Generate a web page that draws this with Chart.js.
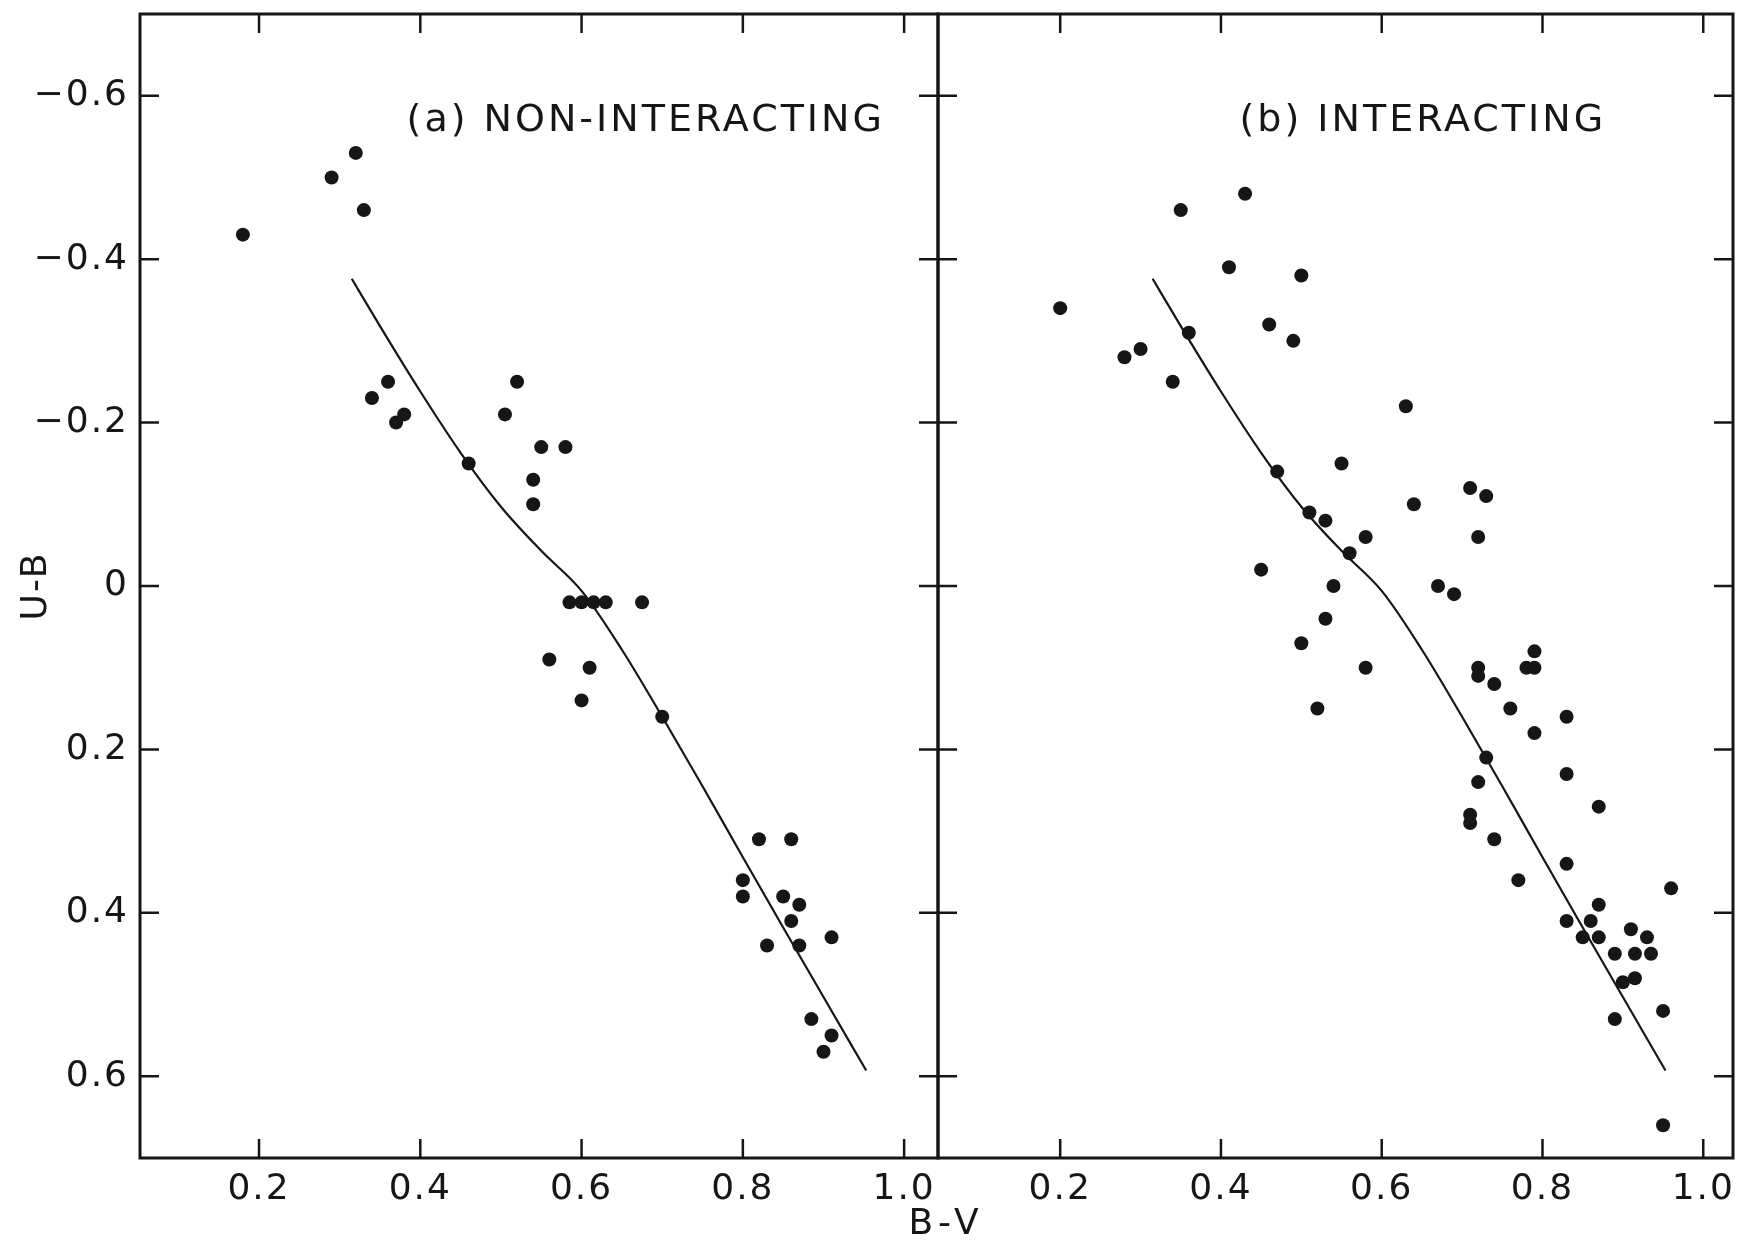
<!DOCTYPE html>
<html>
<head>
<meta charset="utf-8">
<title>U-B vs B-V: non-interacting and interacting galaxies</title>
<script src="https://cdn.jsdelivr.net/npm/chart.js@4.4.1/dist/chart.umd.min.js"></script>
<style>
  html, body { margin: 0; padding: 0; background: #fff; }
  #wrap { position: relative; width: 1741px; height: 1244px; }
  #wrap canvas { position: absolute; left: 0; top: 0; }
</style>
</head>
<body>
<div id="wrap">
  <canvas id="panel-a" width="1741" height="1244"></canvas>
  <canvas id="panel-b" width="1741" height="1244"></canvas>
</div>
<script>
/*
 * Data
**/
const bvTicks = [0.2, 0.4, 0.6, 0.8, 1.0]
const bvTickLabels = ['0.2', '0.4', '0.6', '0.8', '1.0']
const ubTicks = [-0.6, -0.4, -0.2, 0, 0.2, 0.4, 0.6]
const ubTickLabels = ['−0.6', '−0.4', '−0.2', '0', '0.2', '0.4', '0.6']

// (a) non-interacting
const nonInteractingBV = [0.18, 0.29, 0.32, 0.33, 0.34, 0.36, 0.37, 0.38, 0.46, 0.505,
  0.52, 0.54, 0.54, 0.55, 0.58, 0.585, 0.60, 0.615, 0.63, 0.675,
  0.56, 0.61, 0.60, 0.70, 0.82, 0.86, 0.80, 0.80, 0.85, 0.87,
  0.86, 0.83, 0.87, 0.91, 0.885, 0.91, 0.90]
const nonInteractingUB = [-0.43, -0.50, -0.53, -0.46, -0.23, -0.25, -0.20, -0.21, -0.15, -0.21,
  -0.25, -0.13, -0.10, -0.17, -0.17, 0.02, 0.02, 0.02, 0.02, 0.02,
  0.09, 0.10, 0.14, 0.16, 0.31, 0.31, 0.36, 0.38, 0.38, 0.39,
  0.41, 0.44, 0.44, 0.43, 0.53, 0.55, 0.57]

// (b) interacting
const interactingBV = [0.20, 0.28, 0.30, 0.34, 0.35, 0.36, 0.41, 0.43, 0.46, 0.47,
  0.45, 0.49, 0.50, 0.51, 0.53, 0.55, 0.54, 0.56, 0.58, 0.53,
  0.50, 0.52, 0.58, 0.63, 0.64, 0.67, 0.69, 0.71, 0.73, 0.72,
  0.72, 0.72, 0.74, 0.76, 0.79, 0.78, 0.79, 0.83, 0.79, 0.73,
  0.72, 0.71, 0.71, 0.74, 0.83, 0.87, 0.83, 0.77, 0.87, 0.86,
  0.83, 0.85, 0.87, 0.89, 0.91, 0.93, 0.915, 0.935, 0.90, 0.915,
  0.89, 0.95, 0.96, 0.95]
const interactingUB = [-0.34, -0.28, -0.29, -0.25, -0.46, -0.31, -0.39, -0.48, -0.32, -0.14,
  -0.02, -0.30, -0.38, -0.09, -0.08, -0.15, 0.00, -0.04, -0.06, 0.04,
  0.07, 0.15, 0.10, -0.22, -0.10, 0.00, 0.01, -0.12, -0.11, -0.06,
  0.10, 0.11, 0.12, 0.15, 0.08, 0.10, 0.10, 0.16, 0.18, 0.21,
  0.24, 0.28, 0.29, 0.31, 0.23, 0.27, 0.34, 0.36, 0.39, 0.41,
  0.41, 0.43, 0.43, 0.45, 0.42, 0.43, 0.45, 0.45, 0.485, 0.48,
  0.53, 0.52, 0.37, 0.66]

// reference curve, same in both panels
const curveBV = [0.315, 0.35, 0.40, 0.45, 0.50, 0.55, 0.60, 0.65, 0.70, 0.75, 0.80, 0.85, 0.90, 0.953]
const curveUB = [-0.376, -0.318, -0.238, -0.163, -0.097, -0.043, 0.006, 0.078, 0.160, 0.245, 0.332, 0.418, 0.503, 0.593]

/*
 * Style
**/
const INK = '#161616'
const FONT = 'DejaVu Sans'
const TICK_LEN = 19

const toPoints = (xs, ys) => xs.map((x, i) => ({ x: x, y: ys[i] }))

// Lettering in the original is widely spaced
const spacingPlugin = {
  id: 'spacing',
  beforeDraw(chart) {
    chart.ctx.letterSpacing = '2px'
  }
}

// Inward ticks on all four sides plus the box round the plot
const frameTicksPlugin = {
  id: 'frameTicks',
  afterDraw(chart) {
    const { ctx, chartArea: { left, right, top, bottom }, scales: { x, y } } = chart
    ctx.save()
    ctx.strokeStyle = INK
    ctx.lineWidth = 2.5
    ctx.beginPath()
    bvTicks.forEach(v => {
      const px = x.getPixelForValue(v)
      ctx.moveTo(px, top)
      ctx.lineTo(px, top + TICK_LEN)
      ctx.moveTo(px, bottom)
      ctx.lineTo(px, bottom - TICK_LEN)
    })
    ubTicks.forEach(v => {
      const py = y.getPixelForValue(v)
      ctx.moveTo(left, py)
      ctx.lineTo(left + TICK_LEN, py)
      ctx.moveTo(right, py)
      ctx.lineTo(right - TICK_LEN, py)
    })
    ctx.stroke()
    ctx.lineWidth = 3
    ctx.strokeRect(left, top, right - left, bottom - top)
    ctx.restore()
  }
}

// Panel caption and the shared B-V axis label
const captionPlugin = {
  id: 'caption',
  afterDraw(chart, args, opts) {
    const { ctx, scales: { x, y }, chartArea } = chart
    ctx.save()
    ctx.fillStyle = INK
    ctx.letterSpacing = '3px'
    ctx.font = `38px "${FONT}"`
    ctx.textBaseline = 'middle'
    ctx.textAlign = 'left'
    ctx.fillText(opts.text, x.getPixelForValue(opts.bv), y.getPixelForValue(opts.ub))
    if (opts.axisText) {
      ctx.letterSpacing = '5px'
      ctx.font = `36px "${FONT}"`
      ctx.textAlign = 'center'
      ctx.fillText(opts.axisText, chartArea.left + 8, chartArea.bottom + 67)
    }
    ctx.restore()
  }
}

class ColorPanel {
  constructor(canvasId, spec) {
    this.canvasId = canvasId
    this.spec = spec
  }

  get config() {
    return {
      type: 'scatter',
      data: { datasets: this.datasets },
      options: this.options,
      plugins: [spacingPlugin, frameTicksPlugin, captionPlugin]
    }
  }

  get datasets() {
    return [
      {
        label: 'galaxies',
        data: toPoints(this.spec.bv, this.spec.ub),
        pointRadius: 7,
        pointBackgroundColor: INK,
        pointBorderWidth: 0
      },
      {
        label: 'curve',
        data: toPoints(curveBV, curveUB),
        showLine: true,
        cubicInterpolationMode: 'monotone',
        borderColor: INK,
        borderWidth: 2.2,
        pointRadius: 0
      }
    ]
  }

  get options() {
    const spec = this.spec
    const tickFont = { family: FONT, size: 36 }
    return {
      responsive: false,
      animation: false,
      events: [],
      layout: { padding: spec.padding },
      scales: {
        x: {
          type: 'linear',
          min: spec.xMin,
          max: spec.xMax,
          // fixed band under the plot, no edge padding for labels
          afterFit: s => {
            s.height = 86
            s.paddingLeft = 0
            s.paddingRight = 0
          },
          afterBuildTicks: s => { s.ticks = bvTicks.map(v => ({ value: v })) },
          grid: { display: false, drawTicks: false },
          border: { display: false },
          ticks: {
            autoSkip: false,
            maxRotation: 0,
            padding: 10,
            color: INK,
            font: tickFont,
            callback: (v, i) => bvTickLabels[i]
          }
        },
        y: {
          type: 'linear',
          min: -0.7,
          max: 0.7,
          reverse: true,
          afterFit: s => {
            s.width = spec.yWidth
            s.paddingTop = 0
            s.paddingBottom = 0
          },
          afterBuildTicks: s => { s.ticks = ubTicks.map(v => ({ value: v })) },
          grid: { display: false, drawTicks: false },
          border: { display: false },
          title: {
            display: spec.showY,
            text: 'U-B',
            color: INK,
            font: tickFont,
            padding: { top: 15, bottom: 0 }
          },
          ticks: {
            display: spec.showY,
            padding: 11,
            color: INK,
            font: tickFont,
            callback: (v, i) => ubTickLabels[i]
          }
        }
      },
      plugins: {
        legend: { display: false },
        tooltip: { enabled: false },
        caption: spec.caption
      }
    }
  }

  render() {
    return new Chart(document.getElementById(this.canvasId), this.config)
  }
}

/*
 * Main block
**/
new ColorPanel('panel-a', {
  bv: nonInteractingBV,
  ub: nonInteractingUB,
  xMin: 0.0524,
  xMax: 1.042,
  yWidth: 140,
  showY: true,
  padding: { left: 0, top: 14, right: 803, bottom: 0 },
  caption: { text: '(a) NON-INTERACTING', bv: 0.383, ub: -0.569 }
}).render()

new ColorPanel('panel-b', {
  bv: interactingBV,
  ub: interactingUB,
  xMin: 0.048,
  xMax: 1.037,
  yWidth: 938,
  showY: false,
  padding: { left: 0, top: 14, right: 8, bottom: 0 },
  caption: { text: '(b) INTERACTING', bv: 0.423, ub: -0.569, axisText: 'B-V' }
}).render()
</script>
</body>
</html>
